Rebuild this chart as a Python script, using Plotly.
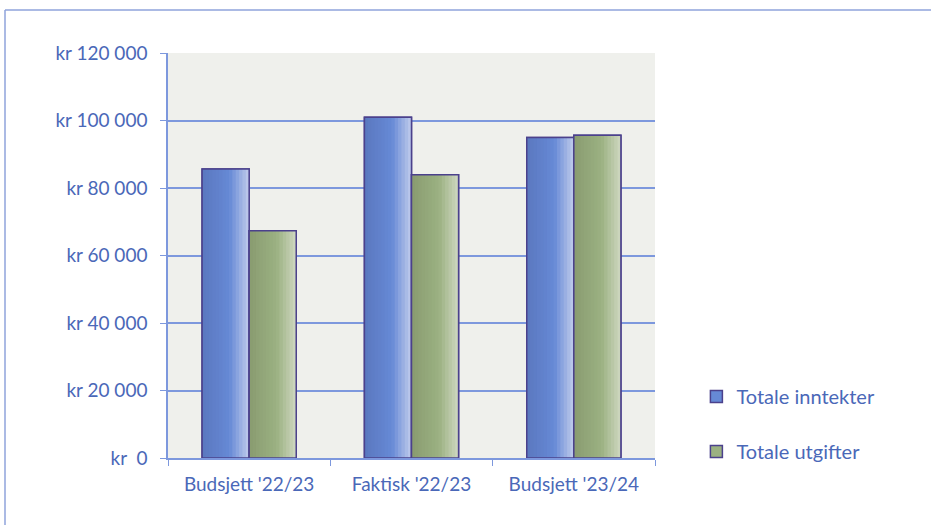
import plotly.graph_objects as go

categories = ["Budsjett '22/23", "Faktisk '22/23", "Budsjett '23/24"]
inntekter = [85600, 101000, 95000]
utgifter = [67300, 83900, 95600]
tick_vals = [0, 20000, 40000, 60000, 80000, 100000, 120000]
tick_text = ["kr  0", "kr 20 000", "kr 40 000", "kr 60 000", "kr 80 000", "kr 100 000", "kr 120 000"]

font_color = "#4a68b8"
grid_color = "#7d98dd"
edge = "#4b418c"
W = 0.29


def mix(c1, c2, t):
    a = [int(c1[i:i + 2], 16) for i in (1, 3, 5)]
    b = [int(c2[i:i + 2], 16) for i in (1, 3, 5)]
    return "rgb(%d,%d,%d)" % tuple(round(a[k] + (b[k] - a[k]) * t) for k in range(3))


series = [
    ("Totale inntekter", inntekter, -W, ("#5a77bd", "#6689d6", "#b9c6ea")),
    ("Totale utgifter", utgifter, 0.0, ("#889a6f", "#9bb182", "#cbd5bc")),
]

fig = go.Figure()
for name, vals, off, (c0, c1, c2) in series:
    fig.add_trace(go.Bar(x=categories, y=vals, name=name, offset=off, width=W,
                         legendgroup=name,
                         marker=dict(color=c1, line=dict(color=edge, width=1.5)),
                         hoverinfo="skip"))
    # left-to-right gradient approximation
    steps = 14
    for i in range(1, steps + 1):
        f = i / steps
        if f <= 0.62:
            col = mix(c0, c1, f / 0.62)
        else:
            col = mix(c1, c2, (f - 0.62) / 0.38)
        start = (i - 1) / steps
        fig.add_trace(go.Bar(x=categories, y=vals, offset=off + start * W, width=W * (1 - start),
                             legendgroup=name,
                             marker=dict(color=col, line=dict(width=0)),
                             showlegend=False, hoverinfo="skip"))
    fig.add_trace(go.Bar(x=categories, y=vals, offset=off, width=W, name=name,
                         legendgroup=name,
                         marker=dict(color="rgba(0,0,0,0)", line=dict(color=edge, width=1.5)),
                         showlegend=False))

fig.update_layout(
    width=931, height=525,
    margin=dict(l=168, r=276, t=53, b=67),
    paper_bgcolor="white",
    plot_bgcolor="#eff0ec",
    barmode="overlay",
    font=dict(family="Lato, Open Sans, sans-serif", size=19, color=font_color),
    showlegend=True,
    legend=dict(x=1.085, xanchor="left", y=0.2, yanchor="top",
                traceorder="grouped", tracegroupgap=26,
                font=dict(size=20, color=font_color),
                itemwidth=30),
    shapes=[
        dict(type="line", xref="paper", yref="paper", x0=-0.3347, x1=-0.3347, y0=-0.3, y1=1.106,
             line=dict(color="#8fa3db", width=1.5)),
        dict(type="line", xref="paper", yref="paper", x0=-0.3347, x1=1.7, y0=1.106, y1=1.106,
             line=dict(color="#8fa3db", width=1.5)),
    ],
)
fig.update_yaxes(range=[0, 120000], tickvals=tick_vals, ticktext=tick_text,
                 showgrid=True, gridcolor=grid_color, gridwidth=1.5,
                 showline=True, linecolor=grid_color, linewidth=1.5,
                 ticks="outside", ticklen=6, tickcolor=grid_color,
                 zeroline=False, ticklabelstandoff=9)
fig.update_xaxes(showline=True, linecolor=grid_color, linewidth=1.5,
                 ticks="outside", ticklen=6, tickcolor=grid_color,
                 tickson="boundaries", showgrid=False, ticklabelstandoff=8)

fig.write_html("out.html", config={"displayModeBar": False},
               post_script="document.body.style.margin='0px';")
